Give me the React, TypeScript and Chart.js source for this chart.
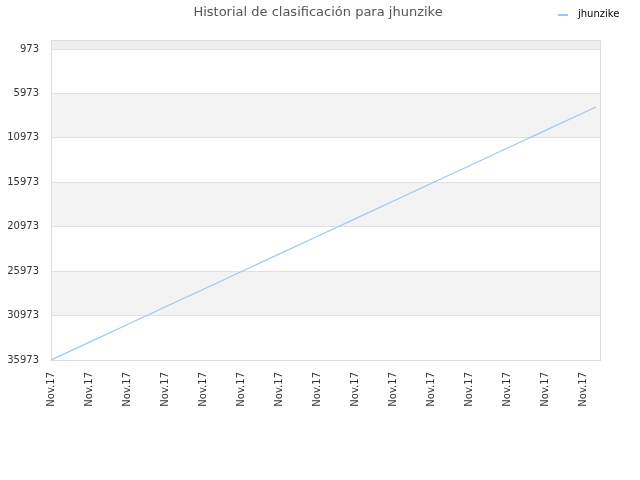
import { useEffect, useRef } from "react";
import { Chart, registerables } from "chart.js";

Chart.register(...registerables);

const title = "Historial de clasificación para jhunzike";
const seriesName = "jhunzike";
const tickLabel = "Nov.17";
const xPositions = [0, 1, 2, 3, 4, 5, 6, 7, 8, 9, 10, 11, 12, 13, 14, 14.34];
const ranks = [
  35973, 33987, 32002, 30016, 28031, 26045, 24060, 22074, 20089, 18103, 16117,
  14132, 12146, 10161, 8175, 7500,
];
const yTicks = [973, 5973, 10973, 15973, 20973, 25973, 30973, 35973];
const xTicks = [0, 1, 2, 3, 4, 5, 6, 7, 8, 9, 10, 11, 12, 13, 14];

const lineColor = "#9ec8f4";
const font = "DejaVu Sans";

const bandsPlugin = {
  id: "bands",
  beforeDraw(chart: any) {
    const { ctx, chartArea: a, scales } = chart;
    const y = scales.y;
    ctx.save();
    // strip above the first tick
    ctx.fillStyle = "#efefef";
    const first = y.getPixelForValue(yTicks[0]);
    ctx.fillRect(a.left, a.top, a.right - a.left, first - a.top);
    ctx.fillStyle = "#f3f3f3";
    for (let i = 1; i < yTicks.length - 1; i += 2) {
      const p1 = y.getPixelForValue(yTicks[i]);
      const p2 = y.getPixelForValue(yTicks[i + 1]);
      ctx.fillRect(a.left, p1, a.right - a.left, p2 - p1);
    }
    ctx.restore();
  },
  afterDraw(chart: any) {
    const { ctx, chartArea: a } = chart;
    ctx.save();
    ctx.strokeStyle = "#dddddd";
    ctx.lineWidth = 1;
    ctx.beginPath();
    ctx.moveTo(a.left, a.top + 0.5);
    ctx.lineTo(a.right + 0.5, a.top + 0.5);
    ctx.lineTo(a.right + 0.5, a.bottom);
    ctx.stroke();

    ctx.fillStyle = "#555555";
    ctx.font = `13px "${font}"`;
    ctx.textAlign = "center";
    ctx.textBaseline = "middle";
    ctx.fillText(title, 318, 13);

    ctx.strokeStyle = lineColor;
    ctx.lineWidth = 2;
    ctx.beginPath();
    ctx.moveTo(558, 15);
    ctx.lineTo(568, 15);
    ctx.stroke();
    ctx.fillStyle = "#000000";
    ctx.font = `10px "${font}"`;
    ctx.textAlign = "left";
    ctx.fillText(seriesName, 578, 14);
    ctx.restore();
  },
};

export default function App() {
  const canvasRef = useRef<HTMLCanvasElement>(null);
  const chartRef = useRef<Chart | null>(null);

  useEffect(() => {
    document.body.style.margin = "0";
    if (!canvasRef.current) return;
    if (chartRef.current) chartRef.current.destroy();

    chartRef.current = new Chart(canvasRef.current, {
      type: "line",
      data: {
        datasets: [
          {
            label: seriesName,
            data: xPositions.map((x, i) => ({ x, y: ranks[i] })),
            borderColor: lineColor,
            borderWidth: 1.2,
            pointRadius: 0,
            tension: 0,
            fill: false,
          },
        ],
      },
      options: {
        animation: false,
        responsive: false,
        layout: { padding: { top: 40, right: 40, left: 0, bottom: 0 } },
        plugins: {
          legend: { display: false },
          title: { display: false },
          tooltip: { enabled: false },
        },
        scales: {
          x: {
            type: "linear",
            min: 0,
            max: 14.447,
            afterBuildTicks: (s: any) => {
              s.ticks = xTicks.map((v) => ({ value: v }));
            },
            afterFit: (s: any) => {
              s.height = 120;
            },
            grid: { display: false, drawTicks: false },
            border: { display: true, color: "#dddddd" },
            ticks: {
              callback: () => tickLabel,
              maxRotation: 90,
              minRotation: 90,
              autoSkip: false,
              padding: 12,
              color: "#333333",
              font: { family: font, size: 10 },
            },
          },
          y: {
            type: "linear",
            reverse: true,
            min: -40,
            max: 35973,
            afterBuildTicks: (s: any) => {
              s.ticks = yTicks.map((v) => ({ value: v }));
            },
            afterFit: (s: any) => {
              s.width = 51;
            },
            grid: { color: "#e0e0e0", drawTicks: false },
            border: { display: true, color: "#dddddd" },
            ticks: {
              callback: (v: any) => String(v),
              padding: 12,
              color: "#333333",
              font: { family: font, size: 10 },
            },
          },
        },
      },
      plugins: [bandsPlugin],
    });

    return () => {
      if (chartRef.current) {
        chartRef.current.destroy();
        chartRef.current = null;
      }
    };
  }, []);

  return (
    <div style={{ width: 640, height: 480 }}>
      <canvas ref={canvasRef} width={640} height={480} />
    </div>
  );
}
